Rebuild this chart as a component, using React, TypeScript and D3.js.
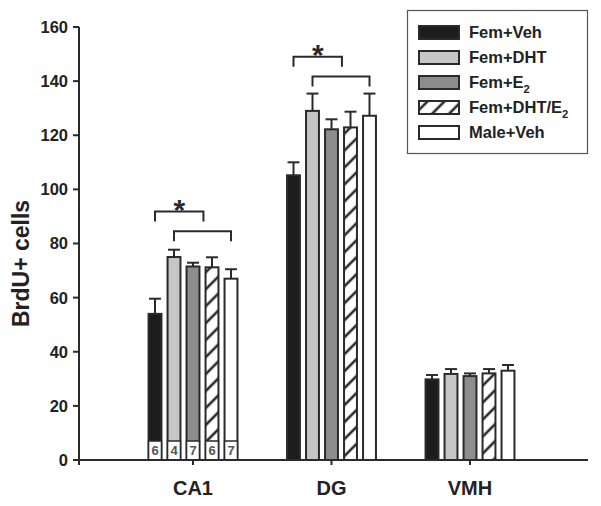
import React from "react";
import * as d3 from "d3";

const regions = ["CA1", "DG", "VMH"];
const seriesNames = ["Fem+Veh", "Fem+DHT", "Fem+E2", "Fem+DHT/E2", "Male+Veh"];
const meanCA1 = [54, 75, 71.5, 71.2, 67];
const meanDG = [105.2, 129, 122.2, 122.9, 127.2];
const meanVMH = [29.8, 31.8, 31, 32, 33];
const semCA1 = [5.6, 2.7, 1.4, 3.7, 3.5];
const semDG = [4.8, 6.4, 3.7, 5.8, 8.2];
const semVMH = [1.6, 1.8, 1.0, 1.6, 2.1];
const sampleSizes = [6, 4, 7, 6, 7];
const yTicks = [0, 20, 40, 60, 80, 100, 120, 140, 160];
// significance brackets: region, from bar index, to bar index, top value
const bracketRegion = ["CA1", "CA1", "DG", "DG"];
const bracketFrom = [0, 1, 0, 1];
const bracketTo = [2.55, 4, 2.55, 4];
const bracketTop = [91.8, 84.5, 149, 141.7];
const starRegion = ["CA1", "DG"];
const starBracket = [0, 2];

const means = [meanCA1, meanDG, meanVMH];
const sems = [semCA1, semDG, semVMH];

const fills = ["#1d1d1d", "#c6c6c6", "#8d8d8d", "url(#hatch)", "#ffffff"];
const ink = "#2a2a2a";
const font = "'Liberation Sans', Arial, Helvetica, sans-serif";

function Label({ name, size }: { name: string; size: number }) {
  if (name.endsWith("E2")) {
    return (
      <>
        {name.slice(0, -1)}
        <tspan fontSize={size * 0.68} dy={size * 0.3}>2</tspan>
      </>
    );
  }
  return <>{name}</>;
}

export default function App() {
  const W = 601;
  const H = 506;
  const y = d3.scaleLinear().domain([0, 160]).range([460, 27]);
  const x0 = d3.scaleBand<string>().domain(regions).range([123.75, 539.25]).padding(0);
  const groupW = 95;
  const x1 = d3
    .scaleBand<string>()
    .domain(seriesNames)
    .range([-groupW / 2, groupW / 2])
    .paddingInner(0.32)
    .paddingOuter(0.16);
  const bw = x1.bandwidth();
  const center = (r: string) => (x0(r) as number) + x0.bandwidth() / 2;
  const barCenter = (r: string, idx: number) =>
    center(r) - groupW / 2 + x1.step() * (idx + 0.5);

  const axisX0 = 79;
  const axisY = y(0);
  const xEnd = 588;
  const hp = 12;

  return (
    <svg
      width={W}
      height={H}
      style={{ position: "absolute", left: 0, top: 0, background: "#fff" }}
      fontFamily={font}
    >
      <defs>
        <pattern
          id="hatch"
          patternUnits="userSpaceOnUse"
          width={hp}
          height={hp}
          patternTransform="rotate(45)"
        >
          <rect width={hp} height={hp} fill="#fff" />
          <line x1={2} y1={0} x2={2} y2={hp} stroke={ink} strokeWidth={2.6} />
        </pattern>
      </defs>

      {/* bars */}
      {regions.map((r, ri) =>
        seriesNames.map((s, si) => {
          const v = means[ri][si];
          const e = sems[ri][si];
          const cx = barCenter(r, si);
          const top = y(v);
          return (
            <g key={r + s}>
              <line x1={cx} x2={cx} y1={top} y2={y(v + e)} stroke={ink} strokeWidth={2} />
              <line x1={cx - bw / 2 + 0.5} x2={cx + bw / 2 - 0.5} y1={y(v + e)} y2={y(v + e)} stroke={ink} strokeWidth={2} />
              <rect
                x={cx - bw / 2}
                y={top}
                width={bw}
                height={axisY - top}
                fill={fills[si]}
                stroke={ink}
                strokeWidth={2}
              />
            </g>
          );
        })
      )}

      {/* sample sizes in CA1 */}
      {sampleSizes.map((n, si) => {
        const cx = barCenter("CA1", si);
        return (
          <g key={"n" + si}>
            <rect x={cx - bw / 2} y={axisY - 19} width={bw} height={19} fill="#fff" stroke={ink} strokeWidth={1.5} />
            <text x={cx} y={axisY - 5} textAnchor="middle" fontSize={13} fontWeight="bold" fill="#555">
              {n}
            </text>
          </g>
        );
      })}

      {/* brackets */}
      {bracketRegion.map((r, i) => {
        const xa = barCenter(r, bracketFrom[i]);
        const xb = barCenter(r, bracketTo[i]);
        const yt = y(bracketTop[i]);
        return (
          <path
            key={"b" + i}
            d={`M${xa},${yt + 10}V${yt}H${xb}V${yt + 10}`}
            fill="none"
            stroke={ink}
            strokeWidth={2}
          />
        );
      })}
      {starRegion.map((r, i) => {
        const bi = starBracket[i];
        const xa = barCenter(r, bracketFrom[bi]);
        const xb = barCenter(r, bracketTo[bi]);
        const yt = y(bracketTop[bi]);
        return (
          <text key={"s" + i} x={(xa + xb) / 2} y={yt + 8} textAnchor="middle" fontSize={30} fontWeight="bold" fill={ink}>
            *
          </text>
        );
      })}

      {/* y axis */}
      <line x1={axisX0} x2={axisX0} y1={y(160)} y2={axisY} stroke={ink} strokeWidth={2} />
      {yTicks.map((t) => (
        <g key={"yt" + t}>
          <line x1={axisX0 - 6} x2={axisX0} y1={y(t)} y2={y(t)} stroke={ink} strokeWidth={2} />
          <text x={axisX0 - 11} y={y(t)} dy="0.36em" textAnchor="end" fontSize={16.5} fontWeight="bold" fill="#222">
            {t}
          </text>
        </g>
      ))}
      <text
        transform={`translate(29,${(y(0) + y(160)) / 2 + 20}) rotate(-90)`}
        textAnchor="middle"
        fontSize={23}
        fontWeight="bold"
        fill="#222"
      >
        BrdU+ cells
      </text>

      {/* x axis */}
      <line x1={axisX0 - 1} x2={xEnd} y1={axisY} y2={axisY} stroke={ink} strokeWidth={2} />
      <line x1={axisX0} x2={axisX0} y1={axisY} y2={axisY + 5} stroke={ink} strokeWidth={2} />
      {regions.map((r) => (
        <g key={"xt" + r}>
          <line x1={center(r)} x2={center(r)} y1={axisY} y2={axisY + 5} stroke={ink} strokeWidth={2} />
          <text x={center(r)} y={495} textAnchor="middle" fontSize={20} fontWeight="bold" fill="#222">
            {r}
          </text>
        </g>
      ))}

      {/* legend */}
      <rect x={407.5} y={10.5} width={180} height={143} fill="#fff" stroke="#555" strokeWidth={1.2} />
      {seriesNames.map((s, i) => {
        const cy = 32.5 + i * 25;
        return (
          <g key={"lg" + s}>
            <rect x={419} y={cy - 6.5} width={40} height={13} fill={fills[i]} stroke={ink} strokeWidth={2} />
            <text x={469} y={cy} dy="0.36em" fontSize={16.5} fontWeight="bold" fill="#222">
              <Label name={s} size={16.5} />
            </text>
          </g>
        );
      })}
    </svg>
  );
}
